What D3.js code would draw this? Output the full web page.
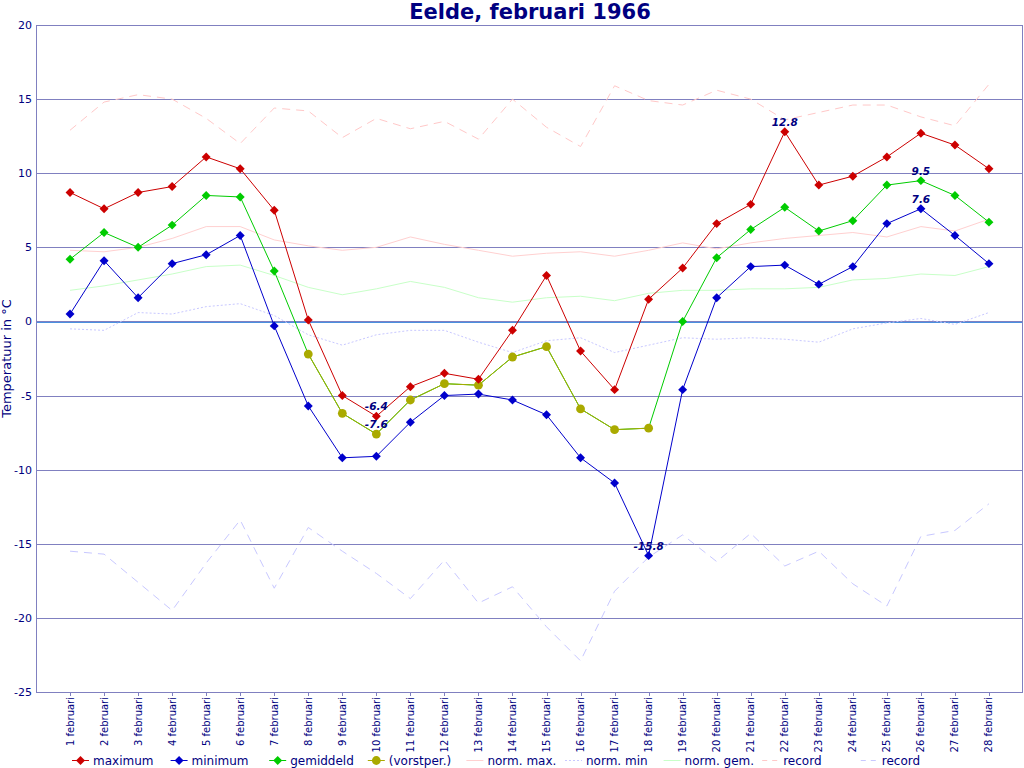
<!DOCTYPE html>
<html>
<head>
<meta charset="utf-8">
<script src="https://cdn.jsdelivr.net/npm/d3@7"></script>
<style>
  body { margin: 0; background: #fff; }
  text { font-family: "DejaVu Sans", sans-serif; }
</style>
</head>
<body>
<svg id="chart" width="1024" height="768"></svg>
<script>
// data
var days = d3.range(1, 29);
var dayLabels = days.map(function(d){ return d + " februari"; });

var maximum = [8.7, 7.6, 8.7, 9.1, 11.1, 10.3, 7.5, 0.1, -5.0, -6.4, -4.4, -3.5, -3.9, -0.6,
               3.1, -2.0, -4.6, 1.5, 3.6, 6.6, 7.9, 12.8, 9.2, 9.8, 11.1, 12.7, 11.9, 10.3];
var minimum = [0.5, 4.1, 1.6, 3.9, 4.5, 5.8, -0.3, -5.7, -9.2, -9.1, -6.8, -5.0, -4.9, -5.3,
               -6.3, -9.2, -10.9, -15.8, -4.6, 1.6, 3.7, 3.8, 2.5, 3.7, 6.6, 7.6, 5.8, 3.9];
var gemiddeld = [4.2, 6.0, 5.0, 6.5, 8.5, 8.4, 3.4, -2.2, -6.2, -7.6, -5.3, -4.2, -4.3, -2.4,
                 -1.7, -5.9, -7.3, -7.2, 0.0, 4.3, 6.2, 7.7, 6.1, 6.8, 9.2, 9.5, 8.5, 6.7];
// vorstperiode: day 8 to 18
var vorstStart = 8, vorstEnd = 18;

var normMax = [4.8, 4.7, 5.0, 5.6, 6.4, 6.4, 5.5, 5.1, 4.8, 5.0, 5.7, 5.2, 4.8, 4.4,
               4.6, 4.7, 4.4, 4.8, 5.3, 4.9, 5.3, 5.6, 5.8, 6.0, 5.7, 6.4, 6.1, 6.9];
var normMin = [-0.5, -0.6, 0.6, 0.5, 1.0, 1.2, 0.4, -0.9, -1.6, -0.9, -0.6, -0.6, -1.4, -2.1,
               -1.3, -1.1, -2.1, -1.6, -1.1, -1.2, -1.1, -1.2, -1.4, -0.5, -0.1, 0.2, -0.2, 0.6];
var normGem = [2.1, 2.4, 2.8, 3.2, 3.7, 3.8, 3.1, 2.3, 1.8, 2.2, 2.7, 2.3, 1.6, 1.3,
               1.6, 1.7, 1.4, 1.9, 2.1, 2.1, 2.2, 2.2, 2.3, 2.8, 2.9, 3.2, 3.1, 3.7];
var recordMax = [12.9, 14.8, 15.3, 15.0, 13.7, 12.0, 14.4, 14.2, 12.4, 13.7, 13.0, 13.5, 12.3, 15.0,
                 13.1, 11.8, 15.9, 14.9, 14.6, 15.6, 15.0, 13.6, 14.1, 14.6, 14.6, 13.8, 13.2, 16.0];
var recordMin = [-15.5, -15.7, -17.6, -19.5, -16.3, -13.4, -18.0, -13.9, -15.5, -17.0, -18.7, -16.1, -19.0, -17.9,
                 -20.6, -22.9, -18.2, -15.9, -14.4, -16.2, -14.3, -16.5, -15.5, -17.7, -19.2, -14.5, -14.1, -12.3];

var yTicks = [20, 15, 10, 5, 0, -5, -10, -15, -20, -25];

// annotated values: [series, day]
var notes = [["max", 10], ["vorst", 10], ["max", 22], ["gem", 26], ["min", 26], ["min", 18]];

(function(){
var navy = "#000080", grid = "#8080c0";
var pLeft = 36, pRight = 1022, pTop = 25, pBottom = 692;

var svg = d3.select("#chart");

var x = d3.scaleLinear().domain([0, 29]).range([pLeft, 1023]);
var y = d3.scaleLinear().domain([-25, 20]).range([pBottom, pTop]);

// title
svg.append("text").attr("x", 530).attr("y", 19).attr("text-anchor", "middle")
  .attr("font-size", 21).attr("font-weight", "bold").attr("fill", navy)
  .text("Eelde, februari 1966");

// grid lines (zero line gets an extra blue line just under it)
svg.append("line").attr("x1", pLeft).attr("x2", pRight)
  .attr("y1", Math.round(y(0)) + 1.5).attr("y2", Math.round(y(0)) + 1.5)
  .attr("stroke", "#4a90e0");
svg.append("g").selectAll("line").data(yTicks).enter().append("line")
  .attr("x1", pLeft).attr("x2", pRight)
  .attr("y1", function(d){ return Math.round(y(d)) + 0.5; })
  .attr("y2", function(d){ return Math.round(y(d)) + 0.5; })
  .attr("stroke", grid)
  .attr("stroke-width", 1);

// frame
svg.append("line").attr("x1", pLeft + 0.5).attr("x2", pLeft + 0.5).attr("y1", pTop).attr("y2", pBottom + 1)
  .attr("stroke", grid);
svg.append("line").attr("x1", pRight + 0.5).attr("x2", pRight + 0.5).attr("y1", pTop).attr("y2", pBottom + 1)
  .attr("stroke", grid);

// y axis labels
svg.append("g").selectAll("text").data(yTicks).enter().append("text")
  .attr("x", 32).attr("y", function(d){ return y(d) + 4; })
  .attr("text-anchor", "end").attr("font-size", 11).attr("fill", navy)
  .text(function(d){ return d; });

svg.append("text")
  .attr("transform", "translate(11," + ((pTop + pBottom) / 2) + ") rotate(-90)")
  .attr("text-anchor", "middle").attr("font-size", 13).attr("fill", navy)
  .text("Temperatuur in °C");

// x axis ticks + labels
var xa = svg.append("g");
xa.selectAll("line").data(days).enter().append("line")
  .attr("x1", function(d){ return Math.round(x(d)) + 0.5; })
  .attr("x2", function(d){ return Math.round(x(d)) + 0.5; })
  .attr("y1", pBottom).attr("y2", pBottom + 4)
  .attr("stroke", grid);
xa.selectAll("text").data(days).enter().append("text")
  .attr("transform", function(d){ return "translate(" + (x(d) + 3.5) + "," + 697 + ") rotate(-90)"; })
  .attr("text-anchor", "end").attr("font-size", 10).attr("fill", navy)
  .text(function(d, i){ return dayLabels[i]; });

var line = d3.line().x(function(d){ return x(d.day); }).y(function(d){ return y(d.v); });
var pts = function(arr){ return arr.map(function(v, i){ return {day: days[i], v: v}; }); };

var drawLine = function(arr, color, dash, width){
  svg.append("path").datum(pts(arr))
    .attr("d", line).attr("fill", "none")
    .attr("stroke", color).attr("stroke-width", width || 1)
    .attr("stroke-dasharray", dash);
};

// normals and records
drawLine(recordMax, "#ffc8c8", "8,6");
drawLine(recordMin, "#c8c8ff", "8,6");
drawLine(normMax, "#ffd0d0", null);
drawLine(normMin, "#c8c8ff", "2,2");
drawLine(normGem, "#c8ffc8", null);

// diamond = square rotated 45 degrees
var diamond = d3.symbol().type(d3.symbolSquare).size(40);

var drawMarks = function(data, color, circle){
  var g = svg.append("g");
  if (circle) {
    g.selectAll("circle").data(data).enter().append("circle")
      .attr("cx", function(d){ return x(d.day); }).attr("cy", function(d){ return y(d.v); })
      .attr("r", 4.4).attr("fill", color);
  } else {
    g.selectAll("path").data(data).enter().append("path")
      .attr("d", diamond)
      .attr("transform", function(d){ return "translate(" + x(d.day) + "," + y(d.v) + ") rotate(45)"; })
      .attr("fill", color);
  }
};

var gemPts = pts(gemiddeld);
var vorstPts = gemPts.filter(function(d){ return d.day >= vorstStart && d.day <= vorstEnd; });
var gemOnly = gemPts.filter(function(d){ return d.day < vorstStart || d.day > vorstEnd; });

// gemiddeld line drawn whole, olive over the vorst period
svg.append("path").datum(gemPts).attr("d", line).attr("fill", "none")
  .attr("stroke", "#00cc00").attr("stroke-width", 1);
svg.append("path").datum(vorstPts).attr("d", line).attr("fill", "none")
  .attr("stroke", "#aaaa00").attr("stroke-width", 1);
drawMarks(gemOnly, "#00cc00");
drawMarks(vorstPts, "#aaaa00", true);

drawLine(minimum, "#0000cc", null);
drawMarks(pts(minimum), "#0000cc");
drawLine(maximum, "#cc0000", null);
drawMarks(pts(maximum), "#cc0000");

// value notes
var seriesOf = {max: maximum, min: minimum, gem: gemiddeld, vorst: gemiddeld};
svg.append("g").selectAll("text").data(notes).enter().append("text")
  .attr("x", function(d){ return x(d[1]); })
  .attr("y", function(d){ return y(seriesOf[d[0]][d[1] - 1]) - 6; })
  .attr("text-anchor", "middle").attr("font-size", 10.5)
  .attr("font-weight", "bold").attr("font-style", "italic").attr("fill", navy)
  .text(function(d){ return seriesOf[d[0]][d[1] - 1].toFixed(1); });

// legend
var legendItems = [
  {name: "maximum", color: "#cc0000", mark: "diamond"},
  {name: "minimum", color: "#0000cc", mark: "diamond"},
  {name: "gemiddeld", color: "#00cc00", mark: "diamond"},
  {name: "(vorstper.)", color: "#aaaa00", mark: "circle"},
  {name: "norm. max.", color: "#ffd0d0"},
  {name: "norm. min", color: "#c8c8ff", dash: "2,2"},
  {name: "norm. gem.", color: "#c8ffc8"},
  {name: "record", color: "#ffc8c8", dash: "5,5"},
  {name: "record", color: "#c8c8ff", dash: "5,5"}
];
var lg = svg.append("g").selectAll("g").data(legendItems).enter().append("g")
  .attr("transform", function(d, i){ return "translate(" + (72 + i * 98.6) + ",760)"; });
lg.append("line").attr("x1", 0).attr("x2", 17).attr("y1", 0.5).attr("y2", 0.5)
  .attr("stroke", function(d){ return d.color; })
  .attr("stroke-dasharray", function(d){ return d.dash; });
lg.filter(function(d){ return d.mark == "diamond"; }).append("path")
  .attr("d", diamond).attr("transform", "translate(8.5,0.5) rotate(45)")
  .attr("fill", function(d){ return d.color; });
lg.filter(function(d){ return d.mark == "circle"; }).append("circle")
  .attr("cx", 8.5).attr("cy", 0.5).attr("r", 4.4)
  .attr("fill", function(d){ return d.color; });
lg.append("text").attr("x", 21).attr("y", 4.5).attr("font-size", 12).attr("fill", navy)
  .text(function(d){ return d.name; });
})();
</script>
</body>
</html>
